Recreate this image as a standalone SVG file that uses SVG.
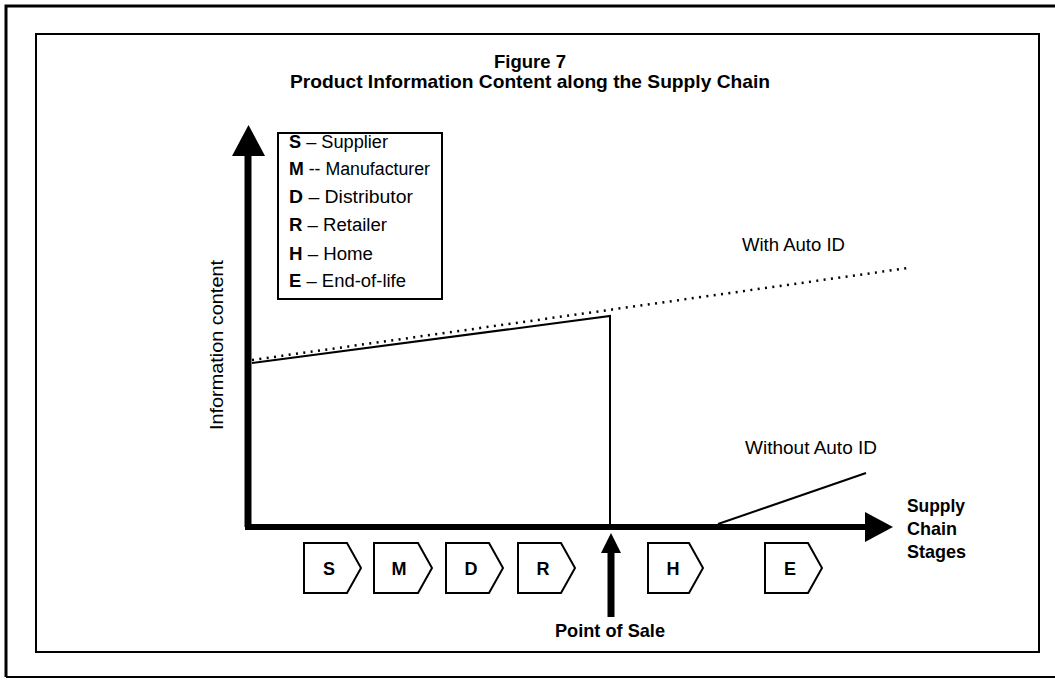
<svg xmlns="http://www.w3.org/2000/svg" width="1055" height="680" viewBox="0 0 1055 680">
<style>
.t{font-family:"Liberation Sans",Arial,sans-serif;fill:#000}
.b{font-weight:bold}
.stage{fill:#fff;stroke:#000;stroke-width:2}
.ln{fill:none;stroke:#000}
.lg{font-size:18px}
</style>
<rect width="1055" height="680" fill="#fff"/>
<g id="frame">
<path d="M6,677 V6 H1055" class="ln" stroke-width="3"/>
<line x1="6" y1="677" x2="1055" y2="677" class="ln" stroke-width="2"/>
<rect x="36" y="34" width="1003" height="618" class="ln" stroke-width="2"/>
</g>
<g id="title">
<text x="530" y="68" text-anchor="middle" class="t b" font-size="18.5">Figure 7</text>
<text x="530" y="88" text-anchor="middle" class="t b" font-size="18.5" textLength="480" lengthAdjust="spacingAndGlyphs">Product Information Content along the Supply Chain</text>
</g>
<g id="connectors">
<line x1="248" y1="527" x2="248" y2="150" class="ln" stroke-width="7"/>
<polygon points="232,156 265,156 248.5,125"/>
<line x1="245" y1="527" x2="866" y2="527" class="ln" stroke-width="6"/>
<polygon points="865,512 865,542 893,527"/>
<line x1="252" y1="360" x2="908" y2="268" class="ln" stroke-width="2.5" stroke-dasharray="2 5.4"/>
<polyline points="252,363 610,316 610,524" class="ln" stroke-width="2"/>
<line x1="718" y1="524" x2="866" y2="473" class="ln" stroke-width="2"/>
<line x1="611" y1="550" x2="611" y2="617" class="ln" stroke-width="7"/>
<polygon points="601,553 621,553 611,533"/>
</g>
<g id="legend">
<rect x="278" y="133" width="164" height="166" fill="#fff" stroke="#000" stroke-width="2"/>
<text class="t lg" x="289" y="148" textLength="99" lengthAdjust="spacingAndGlyphs"><tspan class="b">S</tspan> – Supplier</text>
<text class="t lg" x="289" y="175" textLength="141" lengthAdjust="spacingAndGlyphs"><tspan class="b">M</tspan> -- Manufacturer</text>
<text class="t lg" x="289" y="203" textLength="124" lengthAdjust="spacingAndGlyphs"><tspan class="b">D</tspan> – Distributor</text>
<text class="t lg" x="289" y="231" textLength="98" lengthAdjust="spacingAndGlyphs"><tspan class="b">R</tspan> – Retailer</text>
<text class="t lg" x="289" y="260" textLength="84" lengthAdjust="spacingAndGlyphs"><tspan class="b">H</tspan> – Home</text>
<text class="t lg" x="289" y="287" textLength="117" lengthAdjust="spacingAndGlyphs"><tspan class="b">E</tspan> – End-of-life</text>
</g>
<g id="ylabel">
<text class="t" font-size="19" transform="translate(223,345) rotate(-90)" text-anchor="middle" textLength="170" lengthAdjust="spacingAndGlyphs">Information content</text>
</g>
<g id="label-with">
<text class="t" font-size="19" x="742" y="251" textLength="103" lengthAdjust="spacingAndGlyphs">With Auto ID</text>
</g>
<g id="label-without">
<text class="t" font-size="19" x="745" y="454" textLength="132" lengthAdjust="spacingAndGlyphs">Without Auto ID</text>
</g>
<g id="label-stages">
<text class="t b" font-size="18.5" x="907" y="512" textLength="58" lengthAdjust="spacingAndGlyphs">Supply</text>
<text class="t b" font-size="18.5" x="907" y="535" textLength="50" lengthAdjust="spacingAndGlyphs">Chain</text>
<text class="t b" font-size="18.5" x="907" y="558" textLength="59" lengthAdjust="spacingAndGlyphs">Stages</text>
</g>
<g id="stage-S"><polygon class="stage" points="304,543 347,543 361,568 347,593 304,593"/><text class="t b" font-size="18" x="329" y="575" text-anchor="middle">S</text></g>
<g id="stage-M"><polygon class="stage" points="374,543 418,543 432,568 418,593 374,593"/><text class="t b" font-size="18" x="399" y="575" text-anchor="middle">M</text></g>
<g id="stage-D"><polygon class="stage" points="446,543 489,543 503,568 489,593 446,593"/><text class="t b" font-size="18" x="471" y="575" text-anchor="middle">D</text></g>
<g id="stage-R"><polygon class="stage" points="518,543 561,543 575,568 561,593 518,593"/><text class="t b" font-size="18" x="543" y="575" text-anchor="middle">R</text></g>
<g id="stage-H"><polygon class="stage" points="648,543 689,543 703,568 689,593 648,593"/><text class="t b" font-size="18" x="673" y="575" text-anchor="middle">H</text></g>
<g id="stage-E"><polygon class="stage" points="765,543 808,543 822,568 808,593 765,593"/><text class="t b" font-size="18" x="790" y="575" text-anchor="middle">E</text></g>
<g id="label-pos">
<text class="t b" font-size="19" x="610" y="637" text-anchor="middle" textLength="110" lengthAdjust="spacingAndGlyphs">Point of Sale</text>
</g>
</svg>
